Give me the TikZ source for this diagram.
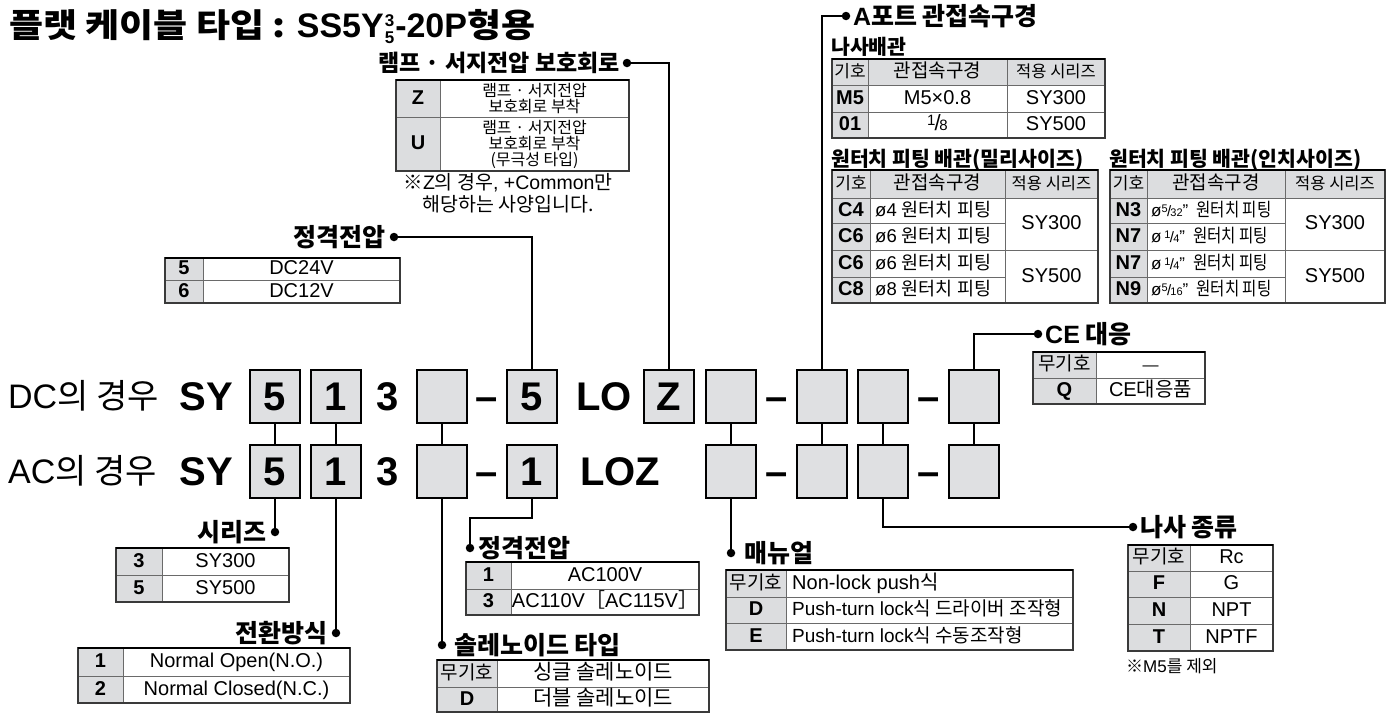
\documentclass[tikz,border=0pt]{standalone}
\usepackage{fontspec}
\setmainfont{Liberation Sans}
\newfontfamily\kr{Noto Sans CJK KR}
\newfontfamily\krw{Noto Sans CJK KR}[FakeStretch=1.12]
\newfontfamily\krn{Noto Sans CJK KR}[FakeStretch=0.84]
\definecolor{boxg}{HTML}{DFE0E2}
\definecolor{cellg}{HTML}{DCDDDF}
\definecolor{tlg}{HTML}{6A6A6A}
\definecolor{tld}{HTML}{3A3A3A}
\newcommand\fs[1]{\fontsize{#1}{#1}\selectfont}
\newcommand\frc[2]{\raisebox{4pt}{\fs{11}#1}\kern-0.6pt{\fs{15}/}\kern-0.8pt{\fs{11}#2}}
\newcommand\frcb[2]{\raisebox{5pt}{\fs{15}#1}\kern-1pt{\fs{22}/}\kern-1.2pt{\fs{15}#2}}
\newcommand\tfr[4]{\draw[tout] (#1,#2) rectangle (#3,#4); \draw[ttop] (#1,#2) -- (#3,#2);}
\tikzset{
 cb/.style={draw=black,line width=2.4pt,fill=boxg,minimum width=50pt,minimum height=53pt,inner sep=0pt,font=\fs{40}\bfseries},
 conn/.style={line width=1.9pt},
 dotn/.style={circle,fill=black,inner sep=0pt,minimum size=8.5pt},
 hdr/.style={inner sep=0pt,font=\kr\bfseries\fs{25}},
 sub/.style={inner sep=0pt,font=\kr\bfseries\fs{20.5},anchor=west},
 code/.style={inner sep=0pt,font=\fs{40}\bfseries,anchor=base},
 lbl/.style={inner sep=0pt,font=\fs{34},anchor=base west},
 tin/.style={line width=0.9pt,draw=tlg},
 tout/.style={line width=1.3pt,draw=tld},
 ttop/.style={line width=2.6pt,draw=black},
 tc/.style={inner sep=0pt,font=\fs{20},text height=14pt,text depth=3pt},
 tk/.style={inner sep=0pt,font=\fs{20}\bfseries,text height=14pt,text depth=3pt},
 tl/.style={tc,anchor=west},
}
\begin{document}
\begin{tikzpicture}[x=1pt,y=-1pt]
\useasboundingbox (0,0) rectangle (1389,713);

% ---------- title
\node[anchor=base west,inner sep=0pt] (title) at (9,37) {{\krw\bfseries\fs{33}플랫 케이블 타입 : }{\bfseries\fs{34}SS5Y\kern1pt\raisebox{-6.5pt}{\fs{17}\shortstack[c]{3\\[2pt]5}}\kern1pt-20P}{\krw\bfseries\fs{33}형용}};

% ---------- main rows
\node[lbl] (dcl) at (8,408.5) {DC{\kr 의 경우}};
\node[code] (dsy) at (206,410.8) {SY};
\node[cb] (d1) at (275,396.5) {5};
\node[cb] (d2) at (336,396.5) {1};
\node[code] (d3t) at (388,410.8) {3};
\node[cb] (d3) at (442,396.5) {};
\node[code] (ddash1) at (487,410.8) {–};
\node[cb] (d4) at (532,396.5) {5};
\node[code] (dlo) at (604,410.8) {LO};
\node[cb] (dZ) at (669,396.5) {Z};
\node[cb] (dA) at (731,396.5) {};
\node[code] (ddash2) at (776.5,410.8) {–};
\node[cb] (dB) at (822,396.5) {};
\node[cb] (dC) at (883,396.5) {};
\node[code] (ddash3) at (928.5,410.8) {–};
\node[cb] (dD) at (974,396.5) {};

\node[lbl] (acl) at (8,483.5) {AC{\kr 의 경우}};
\node[code] (asy) at (206,485.8) {SY};
\node[cb] (a1) at (275,471.5) {5};
\node[cb] (a2) at (336,471.5) {1};
\node[code] (a3t) at (388,485.8) {3};
\node[cb] (a3) at (442,471.5) {};
\node[code] (adash1) at (487,485.8) {–};
\node[cb] (a4) at (532,471.5) {1};
\node[code] (aloz) at (620,485.8) {LOZ};
\node[cb] (aA) at (731,471.5) {};
\node[code] (adash2) at (776.5,485.8) {–};
\node[cb] (aB) at (822,471.5) {};
\node[cb] (aC) at (883,471.5) {};
\node[code] (adash3) at (928.5,485.8) {–};
\node[cb] (aD) at (974,471.5) {};

\foreach \n in {1,2,3,A,B,C,D}{\draw[conn] (d\n.south) -- (a\n.north);}

% ---------- lamp / surge
\node[dotn] (lampdot) at (627,63) {};
\node[hdr,font=\kr\bfseries\fs{23},anchor=east] (lamph) at (620,63) {램프 · 서지전압 보호회로};
\draw[conn] (dZ.north) |- (lampdot);
\fill[cellg] (396,80) rectangle (440,171);
\draw[tin] (396,117) -- (629,117); \draw[tin] (440,80) -- (440,171);
\tfr{396}{80}{629}{171}
\node[tk] (lz) at (418,98.5) {Z};
\node[inner sep=0pt,font=\kr\fs{16},align=center] (lzt) at (534.5,98.5) {\baselineskip=14pt 램프 · 서지전압\\보호회로 부착};
\node[tk] (lu) at (418,144) {U};
\node[inner sep=0pt,font=\kr\fs{16},align=center] (lut) at (534.5,144) {\baselineskip=14pt 램프 · 서지전압\\보호회로 부착\\(무극성 타입)};
\node[inner sep=0pt,font=\fs{19.5},align=center] (lnote) at (508,193) {{\kr ※}Z{\kr 의 경우}, +Common{\kr 만}\\[2pt]{\kr 해당하는 사양입니다.}};

% ---------- DC rated voltage
\node[dotn] (dcvdot) at (394,237) {};
\node[hdr,anchor=east] (dcvh) at (386,237) {정격전압};
\draw[conn] (d4.north) |- (dcvdot);
\fill[cellg] (165,258) rectangle (203,303);
\draw[tin] (165,280) -- (400,280); \draw[tin] (203,258) -- (203,303);
\tfr{165}{258}{400}{303}
\node[tk] (v5) at (184,269) {5};
\node[tc] (v5t) at (301.5,269) {DC24V};
\node[tk] (v6) at (184,291.5) {6};
\node[tc] (v6t) at (301.5,291.5) {DC12V};

% ---------- A port
\node[dotn] (apdot) at (846,16) {};
\node[hdr,anchor=west] (aph) at (853,16) {{\rmfamily\bfseries A}포트 관접속구경};
\draw[conn] (dB.north) |- (apdot);
\node[sub] (aps1) at (831,47) {나사배관};
\fill[cellg] (832,59) rectangle (1105,85);
\fill[cellg] (832,85) rectangle (868,138);
\draw[tin] (832,85) -- (1105,85); \draw[tin] (832,112) -- (1105,112);
\draw[tin] (868,59) -- (868,138); \draw[tin] (1007,59) -- (1007,138);
\tfr{832}{59}{1105}{138}
\node[tc,font=\kr\fs{17}] (ap0a) at (850,72) {기호};
\node[tc,font=\kr\fs{19}] (ap0b) at (937.5,72) {관접속구경};
\node[tc,font=\kr\fs{16.5}] (ap0c) at (1056,72) {적용 시리즈};
\node[tk] (ap1a) at (850,98.5) {M5};
\node[tc] (ap1b) at (937.5,98.5) {M5×0.8};
\node[tc] (ap1c) at (1056,98.5) {SY300};
\node[tk] (ap2a) at (850,125) {01};
\node[tc] (ap2b) at (937.5,125) {\frcb{1}{8}};
\node[tc] (ap2c) at (1056,125) {SY500};

% ---------- one-touch (mm)
\node[sub] (mmh) at (831,160) {원터치 피팅 배관(밀리사이즈)};
\fill[cellg] (832,170) rectangle (1098,198);
\fill[cellg] (832,198) rectangle (870,303);
\draw[tin] (832,198) -- (1098,198); \draw[tin] (832,250) -- (1098,250);
\draw[tin] (832,223) -- (1005,223); \draw[tin] (832,277) -- (1005,277);
\draw[tin] (870,170) -- (870,303); \draw[tin] (1005,170) -- (1005,303);
\tfr{832}{170}{1098}{303}
\node[tc,font=\kr\fs{17}] (mm0a) at (851,184) {기호};
\node[tc,font=\kr\fs{19}] (mm0b) at (937.5,184) {관접속구경};
\node[tc,font=\kr\fs{16.5}] (mm0c) at (1051.5,184) {적용 시리즈};
\node[tk] (mm1a) at (851,210.5) {C4};
\node[tl,font=\fs{18.5}] (mm1b) at (875,210.5) {ø4 {\kr 원터치 피팅}};
\node[tk] (mm2a) at (851,236.5) {C6};
\node[tl,font=\fs{18.5}] (mm2b) at (875,236.5) {ø6 {\kr 원터치 피팅}};
\node[tk] (mm3a) at (851,263.5) {C6};
\node[tl,font=\fs{18.5}] (mm3b) at (875,263.5) {ø6 {\kr 원터치 피팅}};
\node[tk] (mm4a) at (851,290) {C8};
\node[tl,font=\fs{18.5}] (mm4b) at (875,290) {ø8 {\kr 원터치 피팅}};
\node[tc] (mm3c) at (1051.5,224) {SY300};
\node[tc] (mm5c) at (1051.5,276.5) {SY500};

% ---------- one-touch (inch)
\node[sub] (inh) at (1109,160) {원터치 피팅 배관(인치사이즈)};
\fill[cellg] (1110,170) rectangle (1385,198);
\fill[cellg] (1110,198) rectangle (1147,303);
\draw[tin] (1110,198) -- (1385,198); \draw[tin] (1110,250) -- (1385,250);
\draw[tin] (1110,223) -- (1285,223); \draw[tin] (1110,277) -- (1285,277);
\draw[tin] (1147,170) -- (1147,303); \draw[tin] (1285,170) -- (1285,303);
\tfr{1110}{170}{1385}{303}
\node[tc,font=\kr\fs{17}] (in0a) at (1128.5,184) {기호};
\node[tc,font=\kr\fs{19}] (in0b) at (1216,184) {관접속구경};
\node[tc,font=\kr\fs{16.5}] (in0c) at (1335,184) {적용 시리즈};
\node[tk] (in1a) at (1128.5,210.5) {N3};
\node[tl,font=\fs{17}] (in1b) at (1151,210.5) {ø\frc{5}{32}" {\krn\fs{18.5} 원터치 피팅}};
\node[tk] (in2a) at (1128.5,236.5) {N7};
\node[tl,font=\fs{17}] (in2b) at (1151,236.5) {ø\,\frc{1}{4}" {\krn\fs{18.5} 원터치 피팅}};
\node[tk] (in3a) at (1128.5,263.5) {N7};
\node[tl,font=\fs{17}] (in3b) at (1151,263.5) {ø\,\frc{1}{4}" {\krn\fs{18.5} 원터치 피팅}};
\node[tk] (in4a) at (1128.5,290) {N9};
\node[tl,font=\fs{17}] (in4b) at (1151,290) {ø\frc{5}{16}" {\krn\fs{18.5} 원터치 피팅}};
\node[tc] (in3c) at (1335,224) {SY300};
\node[tc] (in5c) at (1335,276.5) {SY500};

% ---------- CE
\node[dotn] (cedot) at (1038,334) {};
\node[hdr,anchor=west] (ceh) at (1045,334) {{\rmfamily\bfseries CE} 대응};
\draw[conn] (dD.north) |- (cedot);
\fill[cellg] (1033,352) rectangle (1096,404);
\draw[tin] (1033,378) -- (1205,378); \draw[tin] (1096,352) -- (1096,404);
\tfr{1033}{352}{1205}{404}
\node[tc,font=\kr\fs{19}] (ce1a) at (1064.5,365) {무기호};
\node[tc,font=\fs{16}] (ce1b) at (1150.5,365) {—};
\node[tk] (ce2a) at (1064.5,391) {Q};
\node[tc] (ce2b) at (1150.5,391) {CE{\kr 대응품}};

% ---------- series
\node[dotn] (serdot) at (275,532) {};
\node[hdr,anchor=east] (serh) at (267,532) {시리즈};
\draw[conn] (a1.south) -- (serdot);
\fill[cellg] (116,548) rectangle (162,602);
\draw[tin] (116,575) -- (289,575); \draw[tin] (162,548) -- (162,602);
\tfr{116}{548}{289}{602}
\node[tk] (s3) at (139,561.5) {3};
\node[tc] (s3t) at (225.5,561.5) {SY300};
\node[tk] (s5) at (139,588.5) {5};
\node[tc] (s5t) at (225.5,588.5) {SY500};

% ---------- switching
\node[dotn] (swdot) at (336,633) {};
\node[hdr,anchor=east] (swh) at (328,633) {전환방식};
\draw[conn] (a2.south) -- (swdot);
\fill[cellg] (78,648) rectangle (123,703);
\draw[tin] (78,676) -- (350,676); \draw[tin] (123,648) -- (123,703);
\tfr{78}{648}{350}{703}
\node[tk] (sw1) at (100.5,662) {1};
\node[tc] (sw1t) at (236.5,662) {Normal Open(N.O.)};
\node[tk] (sw2) at (100.5,689.5) {2};
\node[tc] (sw2t) at (236.5,689.5) {Normal Closed(N.C.)};

% ---------- AC rated voltage
\coordinate (acvk) at (470,518);
\node[dotn] (acvdot) at (470,548) {};
\node[hdr,anchor=west] (acvh) at (478,548) {정격전압};
\draw[conn] (a4.south) |- (acvk) -- (acvdot);
\fill[cellg] (466,562) rectangle (511,615);
\draw[tin] (466,589) -- (699,589); \draw[tin] (511,562) -- (511,615);
\tfr{466}{562}{699}{615}
\node[tk] (acv1) at (488.5,575.5) {1};
\node[tc] (acv1t) at (605,575.5) {AC100V};
\node[tk] (acv3) at (488.5,602) {3};
\node[tc] (acv3t) at (605,602) {AC110V{\kr ［}AC115V{\kr ］}};

% ---------- solenoid
\node[dotn] (soldot) at (442,645) {};
\node[hdr,anchor=west] (solh) at (454,645) {솔레노이드 타입};
\draw[conn] (a3.south) -- (soldot);
\fill[cellg] (437,660) rectangle (497,712);
\draw[tin] (437,687) -- (709,687); \draw[tin] (497,660) -- (497,712);
\tfr{437}{660}{709}{712}
\node[tc,font=\kr\fs{19}] (sol1) at (467,673.5) {무기호};
\node[tc,font=\kr\fs{21}] (sol1t) at (603,673.5) {싱글 솔레노이드};
\node[tk] (sol2) at (467,699.5) {D};
\node[tc,font=\kr\fs{21}] (sol2t) at (603,699.5) {더블 솔레노이드};

% ---------- manual
\node[dotn] (mandot) at (731,553) {};
\node[hdr,anchor=west] (manh) at (744,553) {매뉴얼};
\draw[conn] (aA.south) -- (mandot);
\fill[cellg] (726,570) rectangle (786,650);
\draw[tin] (726,597) -- (1073,597); \draw[tin] (726,623) -- (1073,623); \draw[tin] (786,570) -- (786,650);
\tfr{726}{570}{1073}{650}
\node[tc,font=\kr\fs{19}] (man1) at (756,583.5) {무기호};
\node[tl] (man1t) at (792,583.5) {Non-lock push{\kr 식}};
\node[tk] (man2) at (756,610) {D};
\node[tl,font=\fs{19}] (man2t) at (792,610) {Push-turn lock{\kr 식 드라이버 조작형}};
\node[tk] (man3) at (756,636.5) {E};
\node[tl,font=\fs{19}] (man3t) at (792,636.5) {Push-turn lock{\kr 식 수동조작형}};

% ---------- thread
\node[dotn] (thdot) at (1133,527) {};
\node[hdr,anchor=west] (thh) at (1140,527) {나사 종류};
\draw[conn] (aC.south) |- (thdot);
\fill[cellg] (1128,545) rectangle (1190,651);
\draw[tin] (1128,571) -- (1273,571); \draw[tin] (1128,597) -- (1273,597); \draw[tin] (1128,624) -- (1273,624);
\draw[tin] (1190,545) -- (1190,651);
\tfr{1128}{545}{1273}{651}
\node[tc,font=\kr\fs{19}] (th1) at (1159,558) {무기호};
\node[tc] (th1t) at (1231.5,558) {Rc};
\node[tk] (th2) at (1159,584) {F};
\node[tc] (th2t) at (1231.5,584) {G};
\node[tk] (th3) at (1159,610.5) {N};
\node[tc] (th3t) at (1231.5,610.5) {NPT};
\node[tk] (th4) at (1159,637.5) {T};
\node[tc] (th4t) at (1231.5,637.5) {NPTF};
\node[inner sep=0pt,anchor=west,font=\fs{17}] (thnote) at (1126,666) {{\kr ※}M5{\kr 를 제외}};
\end{tikzpicture}
\end{document}
